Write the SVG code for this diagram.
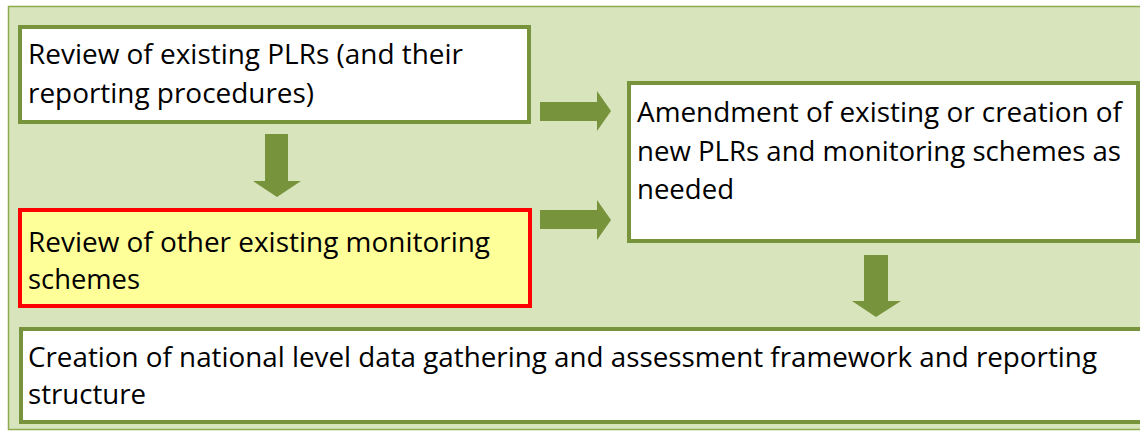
<svg xmlns="http://www.w3.org/2000/svg" width="1140" height="432" viewBox="0 0 1140 432">
<style>
.box{stroke:#77933c;stroke-width:4;fill:#ffffff}
.hl{stroke:#ff0000;stroke-width:4;fill:#ffff99}
.arr{fill:#77933c;stroke:none}
text{font-family:"Open Sans","Liberation Sans",sans-serif;font-size:28px;fill:#000000}
</style>
<rect x="0" y="0" width="1140" height="432" fill="#ffffff"/>
<rect id="frame" x="8.5" y="6.5" width="1140" height="423" fill="#d8e4bc" stroke="#8eab4f" stroke-width="1.5"/>
<g id="connectors">
<polygon class="arr" points="265,134 288,134 288,181 301,181 277,197 253,181 265,181"/>
<polygon class="arr" points="540,102 597,102 597,91 611,111 597,131 597,121 540,121"/>
<polygon class="arr" points="540,210 597,210 597,200 611,220 597,240 597,229 540,229"/>
<polygon class="arr" points="864,255 888,255 888,301 901,301 876,317 852,301 864,301"/>
</g>
<g id="node1">
<rect class="box" x="20" y="27" width="509" height="95"/>
<text x="28" y="64" textLength="435" lengthAdjust="spacingAndGlyphs">Review of existing PLRs (and their</text>
<text x="28" y="103" textLength="286" lengthAdjust="spacingAndGlyphs">reporting procedures)</text>
</g>
<g id="node2">
<rect class="hl" x="20" y="210" width="510" height="96"/>
<text x="28" y="252" textLength="462" lengthAdjust="spacingAndGlyphs">Review of other existing monitoring</text>
<text x="28" y="289" textLength="112" lengthAdjust="spacingAndGlyphs">schemes</text>
</g>
<g id="node3">
<rect class="box" x="629" y="83" width="509" height="158"/>
<text x="637" y="122" textLength="485" lengthAdjust="spacingAndGlyphs">Amendment of existing or creation of</text>
<text x="637" y="161" textLength="484" lengthAdjust="spacingAndGlyphs">new PLRs and monitoring schemes as</text>
<text x="637" y="199" textLength="97" lengthAdjust="spacingAndGlyphs">needed</text>
</g>
<g id="node4">
<rect class="box" x="21" y="329" width="1130" height="93"/>
<text x="28" y="367" textLength="1069" lengthAdjust="spacingAndGlyphs">Creation of national level data gathering and assessment framework and reporting</text>
<text x="28" y="404" textLength="118" lengthAdjust="spacingAndGlyphs">structure</text>
</g>
</svg>
